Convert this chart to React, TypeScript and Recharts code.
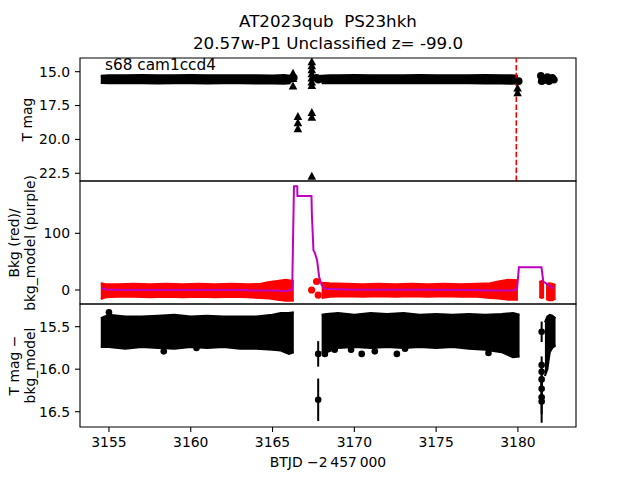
import React from 'react';
import {
  ComposedChart,
  Area,
  Line,
  Scatter,
  XAxis,
  YAxis,
  ReferenceLine,
  ReferenceArea,
  ErrorBar,
} from 'recharts';

const FONT = '"DejaVu Sans", sans-serif';

// ---------- axes ----------
const X_DOMAIN: [number, number] = [3153.23, 3183.55];
const X_TICKS = [3155, 3160, 3165, 3170, 3175, 3180];
const TOP_Y_DOMAIN: [number, number] = [13.99, 23.07];
const TOP_Y_TICKS = [15, 17.5, 20, 22.5];
const MID_Y_DOMAIN: [number, number] = [-24.7, 192.3];
const MID_Y_TICKS = [0, 100];
const BOT_Y_DOMAIN: [number, number] = [15.233, 16.68];
const BOT_Y_TICKS = [15.5, 16.0, 16.5];
const DETECTION_LINE_T = 3179.9;

// ---------- top panel: T mag (dense band of detections) [t, lo, hi] ----------
const topBandA: [number, number, number][] = [
  [3154.5, 15.3, 15.84], [3155.0, 15.26, 15.86], [3156.0, 15.27, 15.85], [3157.0, 15.25, 15.86],
  [3158.0, 15.27, 15.88], [3159.0, 15.26, 15.85], [3160.0, 15.25, 15.86], [3161.0, 15.27, 15.87],
  [3162.0, 15.26, 15.85], [3163.0, 15.27, 15.86], [3164.0, 15.26, 15.88], [3165.0, 15.28, 15.88],
  [3165.7, 15.25, 15.9], [3166.1, 15.3, 15.85],
];
const topBandB: [number, number, number][] = [
  [3168.0, 15.3, 15.86], [3168.5, 15.26, 15.84], [3169.0, 15.27, 15.85], [3170.0, 15.25, 15.86],
  [3171.0, 15.27, 15.84], [3172.0, 15.26, 15.86], [3173.0, 15.27, 15.85], [3174.0, 15.25, 15.86],
  [3175.0, 15.26, 15.84], [3176.0, 15.27, 15.86], [3177.0, 15.26, 15.85], [3178.0, 15.25, 15.88],
  [3179.0, 15.27, 15.87], [3179.6, 15.26, 15.9], [3180.0, 15.3, 15.88],
];
const topDots: [number, number][] = [
  [3166.05, 15.55], [3166.3, 15.45], [3167.7, 15.45], [3167.8, 15.6], [3167.95, 15.5],
  [3180.05, 15.7], [3181.4, 15.3], [3181.45, 15.7], [3181.55, 15.65], [3181.8, 15.4],
  [3181.9, 15.7], [3182.0, 15.55], [3182.1, 15.45], [3182.2, 15.6],
];
const topTriangles: [number, number][] = [
  [3166.25, 15.1], [3166.25, 15.5], [3166.25, 16.05], [3166.55, 18.3], [3166.55, 18.75],
  [3166.55, 19.2], [3167.4, 14.25], [3167.4, 14.55], [3167.4, 14.85], [3167.4, 15.15],
  [3167.4, 15.45], [3167.4, 15.75], [3167.4, 16.0], [3167.4, 18.0], [3167.4, 18.35],
  [3167.4, 22.7], [3179.98, 16.2], [3179.98, 16.55],
];

// ---------- middle panel: Bkg (red) and bkg_model (purple) ----------
const bkgBandA: [number, number, number][] = [
  [3154.5, -16, 12], [3154.8, -13, 10], [3155.5, -12, 10], [3156.5, -12, 11], [3157.5, -13, 10],
  [3158.5, -12, 11], [3159.5, -13, 10], [3160.5, -12, 11], [3161.5, -13, 10], [3162.5, -12, 11],
  [3163.5, -13, 10], [3164.3, -14, 11], [3164.8, -15, 14], [3165.3, -17, 16], [3165.8, -19, 18],
  [3166.3, -19, 16],
];
const bkgBandB: [number, number, number][] = [
  [3168.0, -14, 13], [3168.5, -12, 12], [3169.5, -11, 11], [3170.5, -12, 10], [3171.5, -11, 11],
  [3172.5, -12, 10], [3173.5, -11, 11], [3174.5, -12, 10], [3175.5, -11, 11], [3176.5, -12, 10],
  [3177.5, -12, 11], [3178.3, -14, 12], [3178.8, -15, 15], [3179.4, -17, 18], [3180.0, -17, 17],
];
const bkgBandC: [number, number, number][] = [
  [3181.3, -12, 14], [3181.45, -14, 16], [3181.6, -13, 13],
];
const bkgBandD: [number, number, number][] = [
  [3181.72, -16, 10], [3181.9, -18, 12], [3182.1, -18, 11], [3182.3, -15, 9],
];
const bkgDots: [number, number][] = [
  [3167.39, 0], [3167.69, 15], [3167.79, -9],
];
const bkgModel: [number, number][] = [
  [3154.55, 4], [3154.8, 1], [3156.0, 0], [3160.0, 0], [3163.0, 0], [3164.0, -1], [3165.0, -1],
  [3165.8, -2], [3166.2, 1], [3166.31, 183], [3166.51, 183], [3166.52, 166], [3167.38, 166],
  [3167.4, 137], [3167.5, 70], [3167.58, 66], [3167.72, 53], [3167.85, 23], [3168.0, 9],
  [3168.2, 2], [3170.0, 0.5], [3174.0, 0.5], [3177.0, 0], [3178.5, -1], [3179.7, -1],
  [3179.95, 3], [3180.06, 40], [3181.44, 40], [3181.55, 15], [3182.16, 3],
];

// ---------- bottom panel: T mag - bkg_model ----------
const diffBandA: [number, number, number][] = [
  [3154.5, 15.4, 15.74], [3155.0, 15.36, 15.74], [3156.0, 15.38, 15.76], [3157.0, 15.38, 15.74],
  [3158.0, 15.37, 15.75], [3159.0, 15.36, 15.76], [3160.0, 15.38, 15.74], [3161.0, 15.37, 15.75],
  [3162.0, 15.38, 15.74], [3163.0, 15.38, 15.76], [3164.0, 15.38, 15.76], [3165.0, 15.36, 15.77],
  [3165.5, 15.34, 15.78], [3166.0, 15.34, 15.82], [3166.3, 15.33, 15.8],
];
const diffBandB: [number, number, number][] = [
  [3168.0, 15.36, 15.8], [3168.3, 15.35, 15.8], [3169.0, 15.34, 15.75], [3170.0, 15.36, 15.74],
  [3171.0, 15.34, 15.75], [3172.0, 15.35, 15.74], [3173.0, 15.34, 15.75], [3174.0, 15.36, 15.74],
  [3175.0, 15.35, 15.75], [3176.0, 15.36, 15.74], [3177.0, 15.35, 15.76], [3178.0, 15.36, 15.77],
  [3179.0, 15.35, 15.8], [3179.7, 15.34, 15.86], [3180.1, 15.36, 15.85],
];
const diffBandC: [number, number, number][] = [
  [3181.65, 15.45, 16.08], [3181.8, 15.38, 16.0], [3181.95, 15.36, 15.8], [3182.1, 15.37, 15.75],
  [3182.3, 15.4, 15.72],
];
const diffDots: [number, number][] = [
  [3155.0, 15.33], [3158.35, 15.79], [3160.35, 15.75], [3168.2, 15.82], [3168.8, 15.77],
  [3169.8, 15.77], [3170.45, 15.82], [3171.25, 15.79], [3172.6, 15.82], [3173.1, 15.76],
  [3178.2, 15.81],
];
const diffErrPoints: [number, number, number][] = [
  [3167.79, 15.82, 0.15], [3167.79, 16.36, 0.25], [3181.45, 15.56, 0.12], [3181.45, 15.95, 0.1],
  [3181.45, 16.03, 0.12], [3181.45, 16.12, 0.12], [3181.45, 16.23, 0.15], [3181.45, 16.33, 0.2],
  [3181.45, 16.38, 0.25],
];

// ---------- helpers ----------
function buildBand(segs: [number, number, number][][]) {
  const rows: { t: number; band: [number, number] | null }[] = [];
  segs.forEach((seg, i) => {
    if (i > 0) {
      const prev = segs[i - 1];
      rows.push({ t: (prev[prev.length - 1][0] + seg[0][0]) / 2, band: null });
    }
    seg.forEach(([t, lo, hi]) => rows.push({ t, band: [lo, hi] }));
  });
  return rows;
}
const toPts = (arr: [number, number][]) => arr.map(([t, v]) => ({ t, v }));

const topData = buildBand([topBandA, topBandB]);
const midData = buildBand([bkgBandA, bkgBandB, bkgBandC, bkgBandD]);
const botData = buildBand([diffBandA, diffBandB, diffBandC]);

const dotShape = (r: number, color: string) => (props: any) =>
  props.cx == null ? <g /> : <circle cx={props.cx} cy={props.cy} r={r} fill={color} />;
const triShape = (props: any) => {
  if (props.cx == null) return <g />;
  const { cx, cy } = props;
  const s = 4.3;
  return <polygon points={`${cx},${cy - s} ${cx - s},${cy + s * 0.85} ${cx + s},${cy + s * 0.85}`} fill="#000" />;
};

const tickStyle = { fill: '#000', fontSize: 13.9, fontFamily: FONT };
const W = 640;
const MARGIN_L = 20;
const MARGIN_R = 64;
const YW = 60;

function Frame({ y }: { y: [number, number] }) {
  return (
    <ReferenceArea
      x1={X_DOMAIN[0]}
      x2={X_DOMAIN[1]}
      y1={y[0]}
      y2={y[1]}
      fill="none"
      fillOpacity={0}
      stroke="#000"
      strokeWidth={1.1}
      ifOverflow="visible"
    />
  );
}

export default function App() {
  return (
    <div style={{ position: 'absolute', left: 0, top: 0, width: 640, height: 480, background: '#fff' }}>
      {/* top panel */}
      <div style={{ position: 'absolute', left: 0, top: 48 }}>
        <ComposedChart width={W} height={143} data={topData} margin={{ top: 10, bottom: 10, left: MARGIN_L, right: MARGIN_R }}>
          <XAxis dataKey="t" type="number" domain={X_DOMAIN} ticks={X_TICKS} allowDataOverflow hide />
          <YAxis
            type="number"
            domain={TOP_Y_DOMAIN}
            ticks={TOP_Y_TICKS}
            reversed
            allowDataOverflow
            width={YW}
            axisLine={false}
            tickSize={5}
            tickMargin={5}
            tickLine={{ stroke: '#000', strokeWidth: 1.1 }}
            tick={tickStyle}
            tickFormatter={(v: number) => v.toFixed(1)}
          />
          <Area dataKey="band" type="linear" stroke="#000" strokeWidth={2} fill="#000" fillOpacity={1} connectNulls={false} dot={false} activeDot={false} isAnimationActive={false} />
          <Scatter data={toPts(topDots)} dataKey="v" shape={dotShape(3.8, '#000')} isAnimationActive={false} />
          <Scatter data={toPts(topTriangles)} dataKey="v" shape={triShape} isAnimationActive={false} />
          <ReferenceLine x={DETECTION_LINE_T} stroke="#ff0000" strokeWidth={1.6} strokeDasharray="5.5 2.4" />
          <Frame y={TOP_Y_DOMAIN} />
        </ComposedChart>
      </div>

      {/* middle panel */}
      <div style={{ position: 'absolute', left: 0, top: 171 }}>
        <ComposedChart width={W} height={143} data={midData} margin={{ top: 10, bottom: 10, left: MARGIN_L, right: MARGIN_R }}>
          <XAxis dataKey="t" type="number" domain={X_DOMAIN} ticks={X_TICKS} allowDataOverflow hide />
          <YAxis
            type="number"
            domain={MID_Y_DOMAIN}
            ticks={MID_Y_TICKS}
            allowDataOverflow
            width={YW}
            axisLine={false}
            tickSize={5}
            tickMargin={5}
            tickLine={{ stroke: '#000', strokeWidth: 1.1 }}
            tick={tickStyle}
          />
          <Area dataKey="band" type="linear" stroke="#ff0000" strokeWidth={2} fill="#ff0000" fillOpacity={1} connectNulls={false} dot={false} activeDot={false} isAnimationActive={false} />
          <Scatter data={toPts(bkgDots)} dataKey="v" shape={dotShape(3.6, '#ff0000')} isAnimationActive={false} />
          <Line data={toPts(bkgModel)} dataKey="v" type="linear" stroke="#bf00bf" strokeWidth={2} dot={false} activeDot={false} isAnimationActive={false} />
          <Frame y={MID_Y_DOMAIN} />
        </ComposedChart>
      </div>

      {/* bottom panel */}
      <div style={{ position: 'absolute', left: 0, top: 294 }}>
        <ComposedChart width={W} height={163} data={botData} margin={{ top: 10, bottom: 0, left: MARGIN_L, right: MARGIN_R }}>
          <XAxis
            dataKey="t"
            type="number"
            domain={X_DOMAIN}
            ticks={X_TICKS}
            allowDataOverflow
            height={30}
            axisLine={false}
            tickSize={5}
            tickMargin={5}
            tickLine={{ stroke: '#000', strokeWidth: 1.1 }}
            tick={tickStyle}
          />
          <YAxis
            type="number"
            domain={BOT_Y_DOMAIN}
            ticks={BOT_Y_TICKS}
            reversed
            allowDataOverflow
            width={YW}
            axisLine={false}
            tickSize={5}
            tickMargin={5}
            tickLine={{ stroke: '#000', strokeWidth: 1.1 }}
            tick={tickStyle}
            tickFormatter={(v: number) => v.toFixed(1)}
          />
          <Area dataKey="band" type="linear" stroke="#000" strokeWidth={2} fill="#000" fillOpacity={1} connectNulls={false} dot={false} activeDot={false} isAnimationActive={false} />
          <Scatter data={toPts(diffDots)} dataKey="v" shape={dotShape(3.3, '#000')} isAnimationActive={false} />
          <Scatter
            data={diffErrPoints.map(([t, v, e]) => ({ t, v, e }))}
            dataKey="v"
            shape={dotShape(3.3, '#000')}
            isAnimationActive={false}
          >
            <ErrorBar dataKey="e" direction="y" width={0} stroke="#000" strokeWidth={2} />
          </Scatter>
          <Frame y={BOT_Y_DOMAIN} />
        </ComposedChart>
      </div>

      {/* texts */}
      <svg width={640} height={480} style={{ position: 'absolute', left: 0, top: 0, pointerEvents: 'none' }} fontFamily={FONT}>
        <text x={328} y={26.7} textAnchor="middle" fontSize={16.7} fill="#000" style={{ whiteSpace: 'pre' }}>
          AT2023qub  PS23hkh
        </text>
        <text x={328} y={49.3} textAnchor="middle" fontSize={16.7} fill="#000">
          20.57w-P1 Unclassified z= -99.0
        </text>
        <text x={105} y={69.5} fontSize={15.3} fill="#000">s68 cam1ccd4</text>
        <text x={27} y={119.5} textAnchor="middle" dominantBaseline="central" fontSize={13.9} fill="#000" transform="rotate(-90 27 119.5)">
          T mag
        </text>
        <text x={13.5} y={243} textAnchor="middle" dominantBaseline="central" fontSize={13.9} fill="#000" transform="rotate(-90 13.5 243)">
          Bkg (red)/
        </text>
        <text x={29.5} y={243} textAnchor="middle" dominantBaseline="central" fontSize={13.9} fill="#000" transform="rotate(-90 29.5 243)">
          bkg_model (purple)
        </text>
        <text x={13.5} y={365.5} textAnchor="middle" dominantBaseline="central" fontSize={13.9} fill="#000" transform="rotate(-90 13.5 365.5)">
          T mag −
        </text>
        <text x={29.5} y={365.5} textAnchor="middle" dominantBaseline="central" fontSize={13.9} fill="#000" transform="rotate(-90 29.5 365.5)">
          bkg_model
        </text>
        <text x={328} y={467} textAnchor="middle" fontSize={13.9} fill="#000">
          BTJD −2{'\u2009'}457{'\u2009'}000
        </text>
      </svg>
    </div>
  );
}
